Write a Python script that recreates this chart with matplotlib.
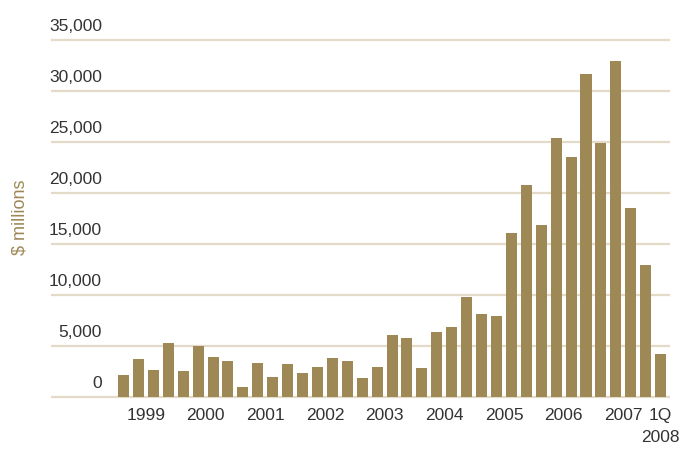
import matplotlib
matplotlib.use("Agg")
import numpy as np
import matplotlib.pyplot as plt

# ── Quarterly totals, 1Q1999 .. 1Q2008 ($ millions) ─────────────
QUARTERS = [f"{q}Q{y}" for y in range(1999, 2008) for q in (1, 2, 3, 4)] + ["1Q2008"]
VALUES = [2130, 3700, 2620, 5270, 2520, 4970, 3890, 3500, 950, 3300,
          1930, 3200, 2320, 2910, 3790, 3500, 1830, 2910, 6050, 5750,
          2810, 6340, 6830, 9770, 8110, 7910, 16050, 20750, 16830, 25360,
          23500, 31640, 24870, 32910, 18500, 12910, 4190]

YEAR_LABELS = ["1999", "2000", "2001", "2002", "2003", "2004", "2005", "2006", "2007", "1Q\n2008"]
Y_TICKS = [0, 5000, 10000, 15000, 20000, 25000, 30000, 35000]

BAR_COLOR  = "#9e8856"
GRID_COLOR = "#e4dac8"
TEXT_COLOR = "#333333"
FONT = ["Liberation Sans Narrow", "Liberation Sans", "DejaVu Sans"]
FS = 12.5

plt.rcParams["font.family"] = FONT

fig = plt.figure(figsize=(6.82, 4.51), dpi=100)
ax = fig.add_axes([51 / 682, 0.1136, 619 / 682, 0.8101])

x = np.arange(len(VALUES))
ax.bar(x, VALUES, width=0.74, color=BAR_COLOR, zorder=3)

ax.set_xlim(-4.86, 36.63)
ax.set_ylim(-300, 35500)

# horizontal rules with the value sitting just above each one
for v in Y_TICKS:
    ax.axhline(v, color=GRID_COLOR, linewidth=1.6, zorder=1)
    ax.annotate(f"{v:,}", xy=(0.0824, v), xycoords=ax.get_yaxis_transform(),
                xytext=(0, 6), textcoords="offset points",
                ha="right", va="baseline", fontsize=FS, color=TEXT_COLOR)

# year labels centred under each group of four quarters
year_pos = [4 * k + 1.5 for k in range(9)] + [len(VALUES) - 1]
ax.set_xticks(year_pos)
ax.set_xticklabels(YEAR_LABELS, fontsize=FS, color=TEXT_COLOR, linespacing=1.6)
ax.tick_params(axis="x", length=0, pad=6)
ax.set_yticks([])

for s in ax.spines.values():
    s.set_visible(False)

fig.text(20 / 682, 1 - 217 / 451, "$ millions", rotation=90, ha="center", va="center",
         fontsize=13, color=BAR_COLOR)

fig.savefig("out.png", dpi=100)
